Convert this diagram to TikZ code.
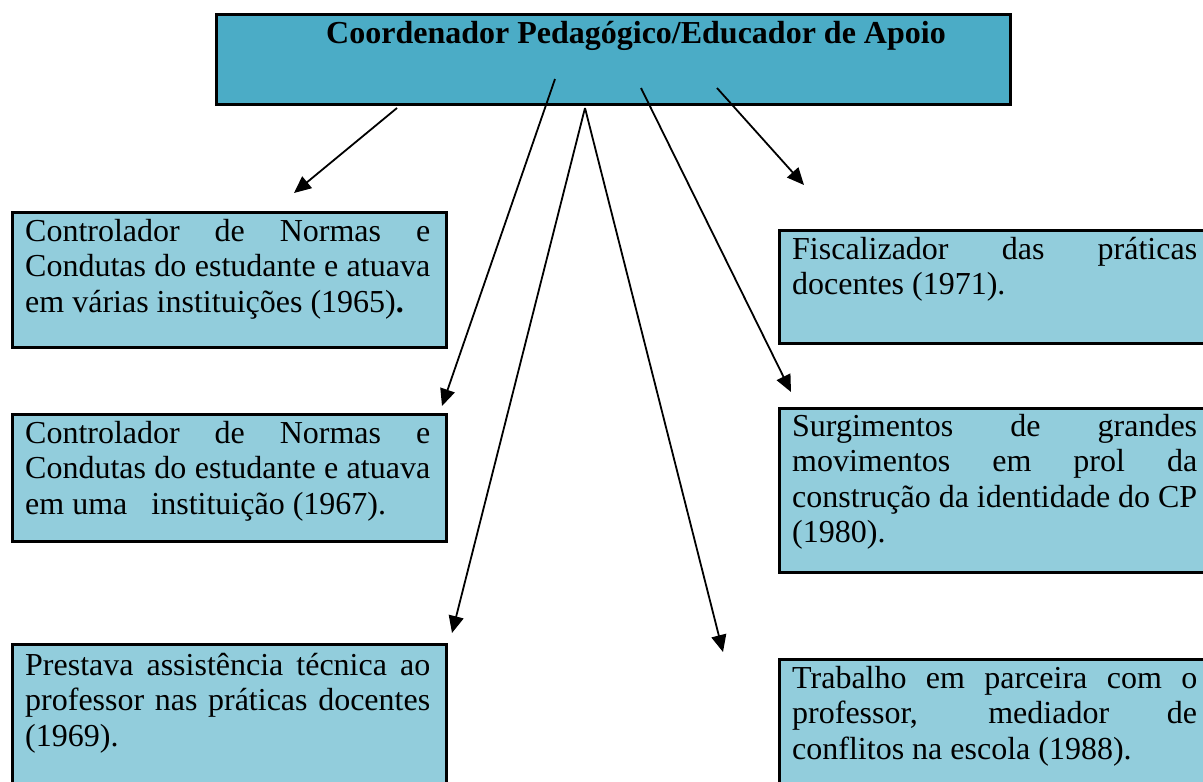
\documentclass[tikz,border=0pt]{standalone}
\usepackage{fontspec}
\setmainfont{Liberation Serif}
\usetikzlibrary{arrows.meta}
\definecolor{cptop}{HTML}{4BACC6}
\definecolor{cpbox}{HTML}{92CDDC}
\tolerance=10000\relax
\hyphenpenalty=10000\relax
\tikzset{
  topbox/.style={draw=black, line width=3pt, fill=cptop, anchor=north west, inner sep=0pt},
  infobox/.style={draw=black, line width=3pt, fill=cpbox, anchor=north west, inner sep=0pt},
  infotext/.style={anchor=base west, inner sep=0pt, text width=405pt, align=justify,
    font=\fontsize{32}{35.5}\selectfont},
  link/.style={line width=1.8pt, -{Triangle[length=17pt,width=15pt]}}
}

\begin{document}
\begin{tikzpicture}[x=1pt, y=-1pt]
				\useasboundingbox (0,0) rectangle (1203,782);
				\clip (0,0) rectangle (1203,782);
				% Boxes:
				\node[topbox, minimum width=794pt, minimum height=90pt] (cp) at (215,13){};
				\node[anchor=base west, inner sep=0pt, font=\fontsize{32}{35.5}\selectfont\bfseries] (cptitle) at (326,43){Coordenador Pedagógico/Educador de Apoio};
				\node[infobox, minimum width=434pt, minimum height=135pt] (b65) at (11,211){};
				\node[infobox, minimum width=434pt, minimum height=127pt] (b67) at (11,413){};
				\node[infobox, minimum width=434pt, minimum height=170pt] (b69) at (11,643){};
				\node[infobox, minimum width=460pt, minimum height=113pt] (b71) at (778,229){};
				\node[infobox, minimum width=460pt, minimum height=164pt] (b80) at (778,407){};
				\node[infobox, minimum width=460pt, minimum height=160pt] (b88) at (778,658){};
				% Texts:
				\node[infotext] (t65) at (25,241){Controlador de Normas e\linebreak Condutas do estudante e atuava\linebreak em várias instituições (1965)\textbf{.}};
				\node[infotext] (t67) at (25,443){Controlador de Normas e\linebreak Condutas do estudante e atuava\linebreak em uma\ \ \ instituição (1967).};
				\node[infotext] (t69) at (25,675){Prestava assistência técnica ao\linebreak professor nas práticas docentes\linebreak (1969).};
				\node[infotext] (t71) at (792,259){Fiscalizador das práticas\linebreak docentes (1971).};
				\node[infotext] (t80) at (792,436){Surgimentos de grandes\linebreak movimentos em prol da\linebreak construção da identidade do CP\linebreak (1980).};
				\node[infotext] (t88) at (792,688){Trabalho em parceira com o\linebreak professor, mediador de\linebreak conflitos na escola (1988).};
				% Arrow ends:
				\coordinate (s65) at (397,108);
				\coordinate (s67) at (555,79);
				\coordinate (apex) at (585,108);
				\coordinate (s71) at (717,88);
				\coordinate (s80) at (641,88);
				\coordinate (e65) at (294,193);
				\coordinate (e67) at (442,406);
				\coordinate (e69) at (452,633);
				\coordinate (e88) at (723,652);
				\coordinate (e80) at (791,392);
				\coordinate (e71) at (804,185);
				% Arrows:
				\draw[link] (s65) -- (e65);
				\draw[link] (s67) -- (e67);
				\draw[link] (apex) -- (e69);
				\draw[link] (apex) -- (e88);
				\draw[link] (s80) -- (e80);
				\draw[link] (s71) -- (e71);
			\end{tikzpicture}
\end{document}
